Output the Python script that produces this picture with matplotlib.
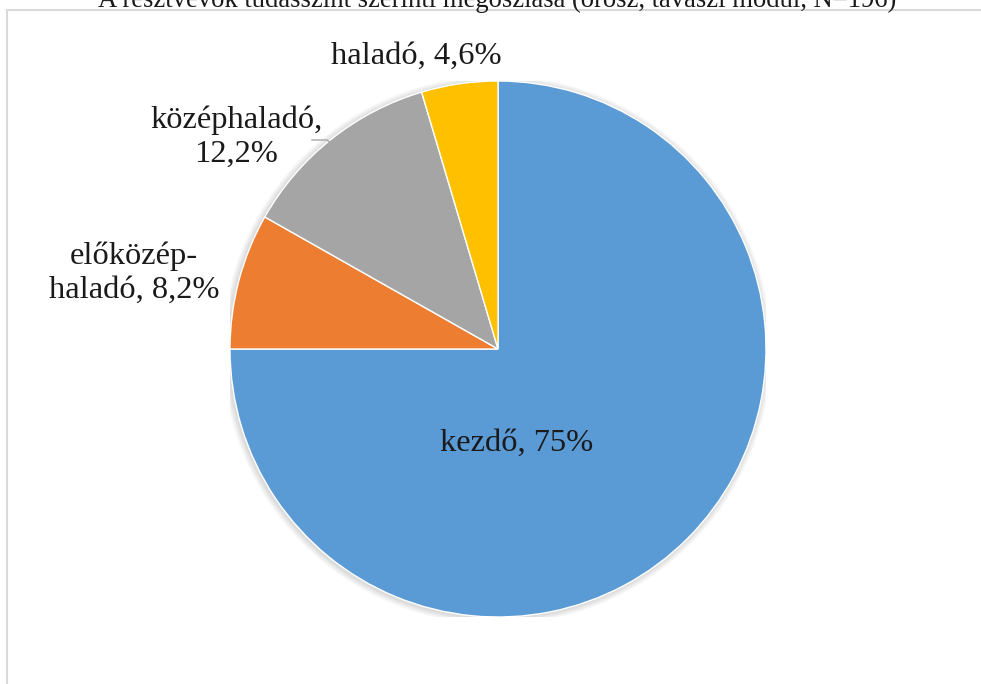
import matplotlib
matplotlib.use("Agg")
import matplotlib.pyplot as plt
from matplotlib.patches import Rectangle, Circle

categories = ["kezdő", "előközép-haladó", "középhaladó", "haladó"]
values = [75.0, 8.2, 12.2, 4.6]
label_texts = ["kezdő, 75%", "előközép-\nhaladó, 8,2%", "középhaladó,\n12,2%", "haladó, 4,6%"]
colors = ["#5B9BD5", "#ED7D31", "#A5A5A5", "#FFC000"]
title = "A résztvevők tudásszint szerinti megoszlása (orosz, tavaszi modul, N=196)"

plt.rcParams['font.family'] = ['Liberation Serif', 'DejaVu Serif']

W, H = 981, 684
fig = plt.figure(figsize=(W/100, H/100), dpi=100)
fig.patch.set_facecolor("white")

# chart frame (cropped at right/bottom)
top = 1 - 10/H
fig.add_artist(Rectangle((7/W, -0.2), 1.2, top + 0.2, transform=fig.transFigure,
                         fill=False, edgecolor="#D9D9D9", lw=1.5))

cx, cy, r = 498, 349, 268
ax = fig.add_axes([(cx - r)/W, (H - cy - r)/H, 2*r/W, 2*r/H])
ax.set_xlim(-1, 1)
ax.set_ylim(-1, 1)
ax.axis("off")

# soft shadow
for i in range(6):
    ax.add_patch(Circle((-0.004, -0.004), 1.0 + 0.004*(i+1), color="black",
                        alpha=0.025, lw=0, zorder=0))

ax.pie(values, colors=colors, startangle=90, counterclock=False,
       wedgeprops=dict(edgecolor="white", linewidth=1), radius=1.0)
ax.set_xlim(-1, 1)
ax.set_ylim(-1, 1)

def px(x, y):
    return ((x - cx)/r, (cy - y)/r)

pos = [px(517, 443), px(134, 273), px(236, 137), px(416, 56)]
for (x, y), t in zip(pos, label_texts):
    ax.text(x, y, t, ha="center", va="center", fontsize=23.4, color="#1a1a1a",
            linespacing=1.2, clip_on=False)

# leader line for középhaladó
lx, ly = zip(px(312, 140), px(327, 140), px(333, 145))
ax.plot(lx, ly, color="#A6A6A6", lw=1, clip_on=False)

fig.text(497/W, 1 - 7/H, title, ha="center", va="baseline", fontsize=19.2, color="#1a1a1a")

fig.savefig("out.png", dpi=100)
